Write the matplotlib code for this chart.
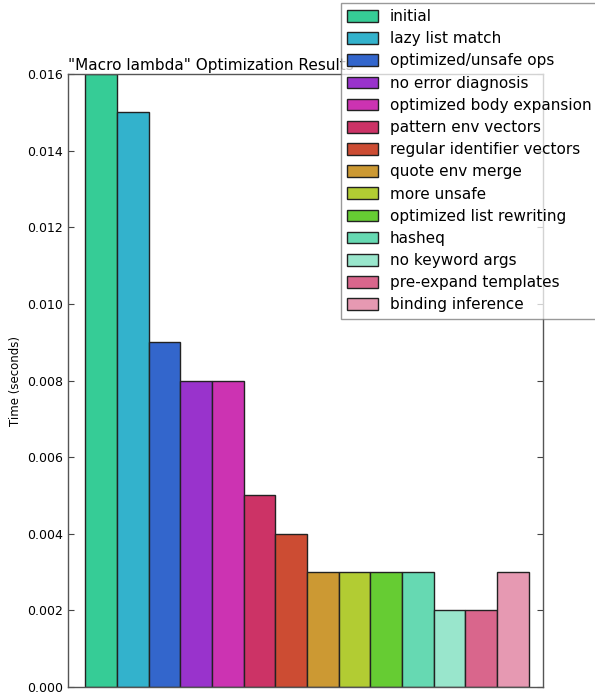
import matplotlib
matplotlib.use("Agg")
import matplotlib.pyplot as plt
import numpy as np

labels = ["initial", "lazy list match", "optimized/unsafe ops", "no error diagnosis",
          "optimized body expansion", "pattern env vectors", "regular identifier vectors",
          "quote env merge", "more unsafe", "optimized list rewriting", "hasheq",
          "no keyword args", "pre-expand templates", "binding inference"]
times = [0.016, 0.015, 0.009, 0.008, 0.008, 0.005, 0.004,
         0.003, 0.003, 0.003, 0.003, 0.002, 0.002, 0.003]
colors = ["#36cc96", "#33b2cc", "#3366cc", "#9933cc", "#cc33b2", "#cc3366", "#cc4c33",
          "#cc9933", "#b2cc33", "#66cc33", "#66d9b2", "#99e6cc", "#d9668c", "#e699b2"]

fig = plt.figure(figsize=(5.95, 6.98), dpi=100)
ax = fig.add_axes([68 / 595, 11 / 698, 475 / 595, 613 / 698])

handles = []
for i, (lab, t, c) in enumerate(zip(labels, times, colors)):
    b = ax.bar(i, t, width=1.0, align="edge", color=c, edgecolor="#222222",
               linewidth=1.0, label=lab)
    handles.append(b)

ax.set_xlim(-0.55, 14.45)
ax.set_ylim(0, 0.016)
ax.set_yticks(np.arange(0, 0.0161, 0.002))
ax.yaxis.set_major_formatter(matplotlib.ticker.FormatStrFormatter("%.3f"))
ax.set_xticks([])
ax.tick_params(axis="y", direction="in", length=4, right=True, labelsize=9,
               color="#444444")
for s in ax.spines.values():
    s.set_color("#555555")
    s.set_linewidth(1.0)
ax.set_ylabel("Time (seconds)", fontsize=8.5)
ax.set_title('"Macro lambda" Optimization Results', loc="left", fontsize=11, pad=3)

leg = fig.legend(handles=handles, labels=labels, loc="upper left",
                 bbox_to_anchor=(341 / 595, 1 - 3 / 698), fontsize=11,
                 handlelength=2.0, handleheight=0.8, labelspacing=0.47,
                 borderaxespad=0, borderpad=0.4, handletextpad=0.8,
                 fancybox=False, framealpha=0.75, edgecolor="#777777")

fig.savefig("out.png", dpi=100)
